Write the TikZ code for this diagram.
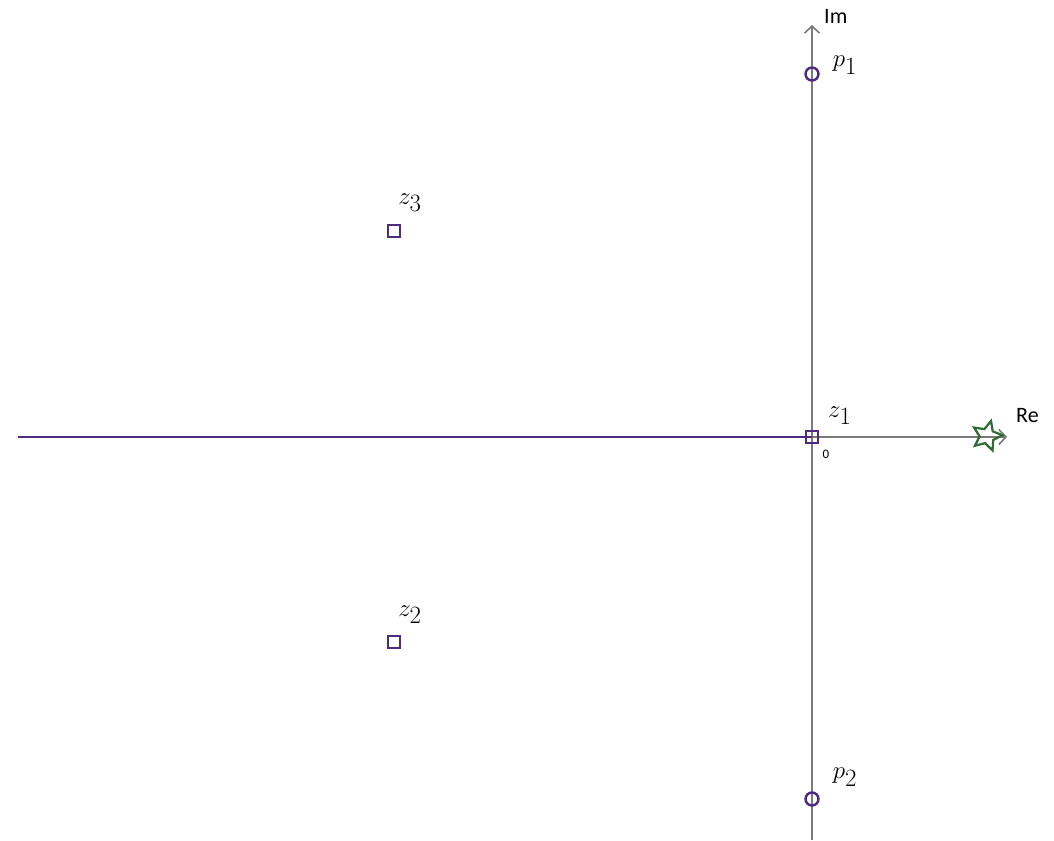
\documentclass[tikz,border=0pt]{standalone}
\usepackage{fontspec}
\setsansfont{Carlito}
\usetikzlibrary{positioning,arrows.meta,shapes.geometric}
\definecolor{rootc}{HTML}{4B2C82}
\definecolor{axisc}{HTML}{7A7A7A}
\definecolor{starc}{HTML}{2F6B34}
\tikzset{
  zero/.style={draw=rootc, line width=2.4pt, rectangle, minimum size=12pt, inner sep=0pt},
  pole/.style={draw=rootc, line width=2.4pt, circle, minimum size=13pt, inner sep=0pt},
  lbl/.style={font=\fontsize{33}{36}\selectfont, inner sep=0pt},
  axlbl/.style={font=\sffamily\fontsize{22}{24}\selectfont, inner sep=0pt},
}

\begin{document}
\begin{tikzpicture}[x=1pt, y=-1pt, >={Straight Barb[length=7pt, width=15pt]}]
        \useasboundingbox (0,0) rectangle (1054,840);
        % axes
        \coordinate (imbot) at (812,840);
        \coordinate (imtop) at (812,25);
        \coordinate (rebeg) at (812,437);
        \coordinate (retip) at (1007,437);
        \coordinate (locus) at (18,437);
        \draw[axisc, line width=1.6pt, ->] (imbot) -- (imtop);
        \draw[axisc, line width=1.6pt, ->] (rebeg) -- (retip);
        \node[axlbl, right=12pt of imtop, yshift=9pt] (im) {Im};
        \node[axlbl, right=9pt of retip, yshift=21pt] (re) {Re};
        % root locus on the negative real axis
        \draw[rootc, line width=2.8pt] (locus) -- (rebeg);
        % zeros and poles
        \node[zero] (z1) at (812,437) {};
        \node[zero] (z2) at (394,642) {};
        \node[zero] (z3) at (394,231) {};
        \node[pole] (p1) at (812,74) {};
        \node[pole] (p2) at (812,799) {};
        \node[star, star points=5, star point ratio=2.1, minimum size=31pt, inner sep=0pt,
              draw=starc, line width=2.2pt, rotate=-15] (st) at (987,436) {};
        \node[font=\sffamily\fontsize{13}{14}\selectfont, below right=2pt and 0pt of z1] (org) {0};
        % labels
        \node[lbl, right=13pt of p1, yshift=9pt] (lp1) {$p_1$};
        \node[lbl, right=13pt of p2, yshift=22pt] (lp2) {$p_2$};
        \node[lbl, above right=12pt and 16pt of z1.center] (lz1) {$z_1$};
        \node[lbl, above=12pt of z3, xshift=16pt] (lz3) {$z_3$};
        \node[lbl, above=11pt of z2, xshift=16pt] (lz2) {$z_2$};
      \end{tikzpicture}
\end{document}
